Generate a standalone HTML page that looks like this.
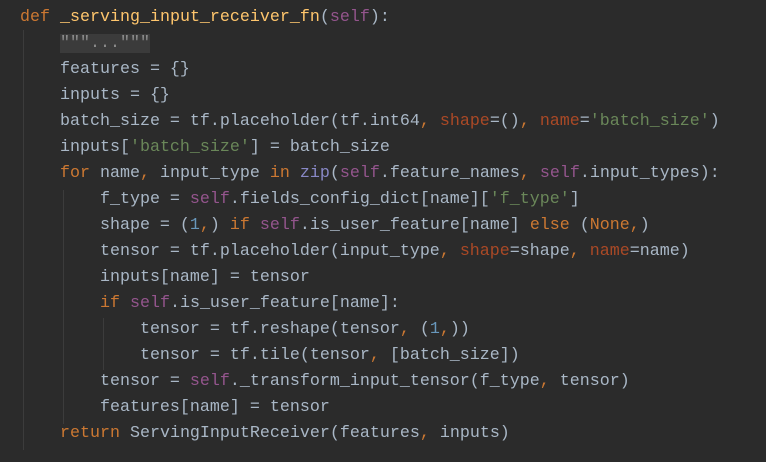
<!DOCTYPE html>
<html><head><meta charset="utf-8"><style>
html,body{margin:0;padding:0;background:#2b2b2b;width:766px;height:462px;overflow:hidden}
pre{position:absolute;left:20px;top:5px;margin:0;font-family:"Liberation Mono",monospace;font-size:16.67px;line-height:26px;color:#a9b7c6}
.k{color:#cc7832}.f{color:#ffc66d}.s{color:#94558d}.g{color:#6a8759}.n{color:#aa4926}.b{color:#8888c6}.m{color:#6897bb}
.d{color:#8c8c8c;background:#3b3b3b}
.gl{position:absolute;width:1px;background:#3c3c3c}
</style></head><body>
<div class="gl" style="left:23px;top:30px;height:420px"></div>
<div class="gl" style="left:63px;top:190px;height:234px"></div>
<div class="gl" style="left:103px;top:318px;height:52px"></div>
<pre><span class="k">def</span> <span class="f">_serving_input_receiver_fn</span>(<span class="s">self</span>):
    <span class="d">"""..."""</span>
    features = {}
    inputs = {}
    batch_size = tf.placeholder(tf.int64<span class="k">,</span> <span class="n">shape</span>=()<span class="k">,</span> <span class="n">name</span>=<span class="g">'batch_size'</span>)
    inputs[<span class="g">'batch_size'</span>] = batch_size
    <span class="k">for</span> name<span class="k">,</span> input_type <span class="k">in</span> <span class="b">zip</span>(<span class="s">self</span>.feature_names<span class="k">,</span> <span class="s">self</span>.input_types):
        f_type = <span class="s">self</span>.fields_config_dict[name][<span class="g">'f_type'</span>]
        shape = (<span class="m">1</span><span class="k">,</span>) <span class="k">if</span> <span class="s">self</span>.is_user_feature[name] <span class="k">else</span> (<span class="k">None,</span>)
        tensor = tf.placeholder(input_type<span class="k">,</span> <span class="n">shape</span>=shape<span class="k">,</span> <span class="n">name</span>=name)
        inputs[name] = tensor
        <span class="k">if</span> <span class="s">self</span>.is_user_feature[name]:
            tensor = tf.reshape(tensor<span class="k">,</span> (<span class="m">1</span><span class="k">,</span>))
            tensor = tf.tile(tensor<span class="k">,</span> [batch_size])
        tensor = <span class="s">self</span>._transform_input_tensor(f_type<span class="k">,</span> tensor)
        features[name] = tensor
    <span class="k">return</span> ServingInputReceiver(features<span class="k">,</span> inputs)</pre>
</body></html>
